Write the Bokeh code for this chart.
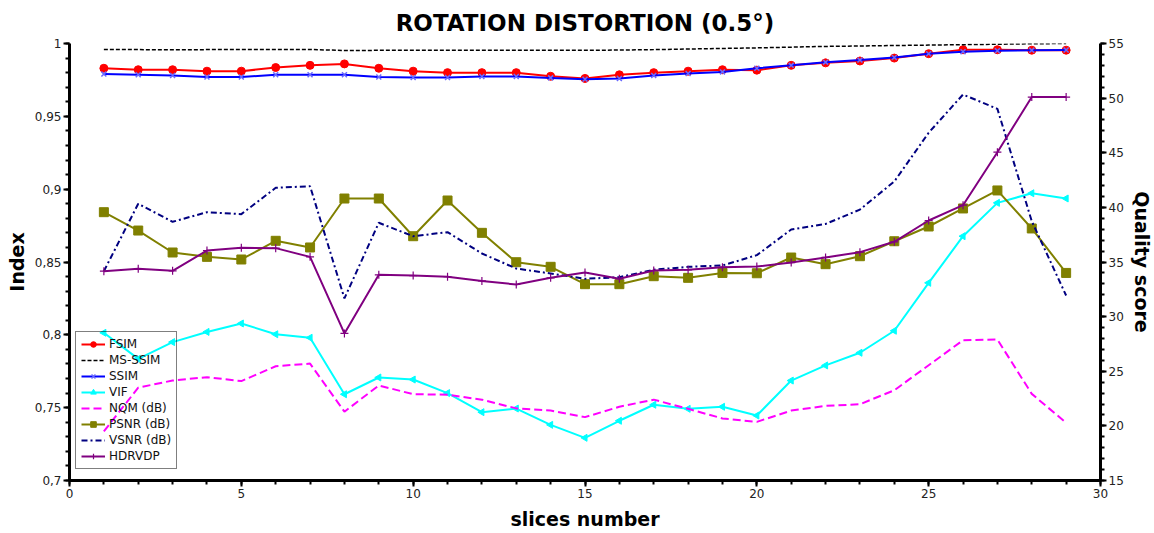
from bokeh.plotting import figure
from bokeh.models import (Range1d, LinearAxis, FixedTicker, Legend, LegendItem)
from bokeh.embed import file_html
from bokeh.resources import INLINE
import numpy as np

slices = [1, 2, 3, 4, 5, 6, 7, 8, 9, 10, 11, 12, 13, 14, 15, 16, 17, 18, 19, 20,
          21, 22, 23, 24, 25, 26, 27, 28, 29]

fsim = [0.983, 0.982, 0.982, 0.981, 0.981, 0.9835, 0.985, 0.986, 0.983, 0.981,
        0.980, 0.980, 0.980, 0.9775, 0.976, 0.9785, 0.980, 0.981, 0.982, 0.9817,
        0.985, 0.9867, 0.988, 0.990, 0.993, 0.9957, 0.9957, 0.9954, 0.9954]
ms_ssim = [0.9958, 0.9958, 0.9957, 0.9958, 0.9958, 0.9959, 0.9959, 0.9952, 0.9953, 0.9953,
           0.9953, 0.9953, 0.9953, 0.9953, 0.9953, 0.9955, 0.9958, 0.9962, 0.9966, 0.997,
           0.9975, 0.998, 0.9983, 0.9986, 0.9989, 0.9992, 0.9995, 0.9998, 1.0]
ssim = [0.979, 0.9785, 0.978, 0.977, 0.977, 0.9785, 0.9785, 0.9785, 0.977, 0.9767,
        0.9767, 0.9773, 0.9773, 0.9764, 0.9755, 0.976, 0.978, 0.9794, 0.9805, 0.983,
        0.985, 0.9872, 0.9886, 0.9904, 0.993, 0.9943, 0.995, 0.9954, 0.9955]
vif = [0.8014, 0.7835, 0.795, 0.802, 0.8078, 0.8004, 0.798, 0.7592, 0.7707, 0.7693,
       0.760, 0.7469, 0.7494, 0.7382, 0.7293, 0.741, 0.752, 0.7492, 0.7506, 0.7446,
       0.7686, 0.779, 0.7877, 0.8028, 0.8357, 0.8677, 0.8906, 0.8972, 0.8936]
nqm = [19.5, 23.5, 24.15, 24.46, 24.1, 25.46, 25.7, 21.3, 23.7, 22.9,
       22.85, 22.4, 21.6, 21.4, 20.8, 21.75, 22.4, 21.56, 20.68, 20.37,
       21.4, 21.83, 21.98, 23.26, 25.55, 27.84, 27.9, 22.93, 20.28]
psnr = [39.56, 37.88, 35.87, 35.47, 35.23, 36.94, 36.33, 40.81, 40.81, 37.36,
        40.63, 37.67, 34.98, 34.56, 32.97, 32.97, 33.7, 33.55, 34.0, 33.97,
        35.41, 34.8, 35.53, 36.9, 38.25, 39.9, 41.55, 38.07, 34.0]
vsnr = [34.16, 40.33, 38.68, 39.56, 39.38, 41.79, 41.94, 31.67, 38.59, 37.36,
        37.73, 35.78, 34.4, 33.95, 33.46, 33.61, 34.29, 34.56, 34.68, 35.63,
        37.97, 38.48, 39.8, 42.37, 46.83, 50.33, 49.02, 38.74, 31.93]
hdrvdp = [34.16, 34.38, 34.19, 36.05, 36.3, 36.27, 35.47, 28.46, 33.83, 33.76,
          33.65, 33.27, 32.94, 33.55, 34.04, 33.46, 34.22, 34.28, 34.53, 34.59,
          34.95, 35.42, 35.9, 36.85, 38.8, 40.2, 45.05, 50.1, 50.1]

x_ticks = [0, 5, 10, 15, 20, 25, 30]
left_ticks = [0.7, 0.75, 0.8, 0.85, 0.9, 0.95, 1.0]
left_labels = ["0,7", "0,75", "0,8", "0,85", "0,9", "0,95", "1"]
right_ticks = [15, 20, 25, 30, 35, 40, 45, 50, 55]

FONT = "DejaVu Sans"

p = figure(frame_width=1031, frame_height=437, output_backend="svg",
           toolbar_location=None, x_range=Range1d(0, 30), y_range=Range1d(0.7, 1.0),
           min_border_left=69, min_border_top=43, min_border_right=40, min_border_bottom=40,
           title="ROTATION DISTORTION (0.5°)")
p.extra_y_ranges = {"q": Range1d(15, 55)}

p.title.align = "center"
p.title.vertical_align = "middle"
p.title.text_font = FONT
p.title.text_font_size = "23px"
p.title.text_font_style = "bold"
p.title.text_color = "black"
p.title.standoff = 14

p.xgrid.visible = False
p.ygrid.visible = False
p.outline_line_color = None
p.background_fill_color = "white"
p.border_fill_color = "white"

def style_axis(ax, ticks, minors):
    ax.ticker = FixedTicker(ticks=ticks, minor_ticks=minors)
    ax.axis_line_width = 3
    ax.axis_line_color = "black"
    ax.major_tick_line_width = 2
    ax.minor_tick_line_width = 2
    ax.major_tick_line_color = "black"
    ax.minor_tick_line_color = "black"
    ax.major_tick_out = 6
    ax.major_tick_in = 0
    ax.minor_tick_out = 4
    ax.minor_tick_in = 0
    ax.major_label_text_font = FONT
    ax.major_label_text_font_size = "12px"
    ax.major_label_text_color = "#222222"
    ax.major_label_standoff = 2
    ax.axis_label_text_font = FONT
    ax.axis_label_text_font_size = "19px"
    ax.axis_label_text_font_style = "bold"
    ax.axis_label_text_color = "black"
    ax.axis_label_standoff = 4

xa = p.xaxis[0]
style_axis(xa, x_ticks, list(range(0, 31)))
xa.axis_label = "slices number"
xa.axis_label_standoff = 7

ya = p.yaxis[0]
style_axis(ya, left_ticks, [round(0.7 + 0.01 * i, 2) for i in range(31)])
ya.major_label_overrides = {t: l for t, l in zip(left_ticks, left_labels)}
ya.axis_label = "Index"

ra = LinearAxis(y_range_name="q", axis_label="Quality score")
style_axis(ra, right_ticks, list(range(15, 56)))
p.add_layout(ra, "right")

items = []

r1 = p.line(slices, fsim, line_color="red", line_width=2)
r1m = p.scatter(slices, fsim, marker="circle", size=8, fill_color="red", line_color="red")
items.append(LegendItem(label="FSIM", renderers=[r1, r1m]))

r2 = p.line(slices, ms_ssim, line_color="black", line_width=1.5, line_dash="4 2")
items.append(LegendItem(label="MS-SSIM", renderers=[r2]))

r3 = p.line(slices, ssim, line_color="blue", line_width=2)
r3m = p.scatter(slices, ssim, marker="x", size=7, line_color="#6a6aff", line_width=1.5)
items.append(LegendItem(label="SSIM", renderers=[r3, r3m]))

r4 = p.line(slices, vif, line_color="cyan", line_width=2)
r4m = p.scatter(slices, vif, marker="triangle", angle=np.pi / 2, size=7,
                fill_color="cyan", line_color="cyan")
items.append(LegendItem(label="VIF", renderers=[r4, r4m]))

r5 = p.line(slices, nqm, line_color="magenta", line_width=2, line_dash="8 4",
            y_range_name="q")
items.append(LegendItem(label="NQM (dB)", renderers=[r5]))

r6 = p.line(slices, psnr, line_color="#808000", line_width=2, y_range_name="q")
r6m = p.scatter(slices, psnr, marker="square", size=9, fill_color="#808000",
                line_color="#808000", y_range_name="q")
items.append(LegendItem(label="PSNR (dB)", renderers=[r6, r6m]))

r7 = p.line(slices, vsnr, line_color="navy", line_width=2, line_dash="6 3 2 3",
            y_range_name="q")
items.append(LegendItem(label="VSNR (dB)", renderers=[r7]))

r8 = p.line(slices, hdrvdp, line_color="purple", line_width=2, y_range_name="q")
r8m = p.scatter(slices, hdrvdp, marker="cross", size=8, line_color="purple",
                line_width=1.2, y_range_name="q")
items.append(LegendItem(label="HDRVDP", renderers=[r8, r8m]))

legend = Legend(items=items, location=(6, 11))
legend.background_fill_alpha = 0
legend.border_line_color = "black"
legend.border_line_width = 1
legend.label_text_font = FONT
legend.label_text_font_size = "12px"
legend.label_text_color = "#111111"
legend.label_height = 14
legend.glyph_height = 14
legend.glyph_width = 24
legend.spacing = 2
legend.padding = 5
legend.margin = 0
legend.label_standoff = 4
p.add_layout(legend, "center")

open("out.html", "w").write(file_html(p, INLINE))
